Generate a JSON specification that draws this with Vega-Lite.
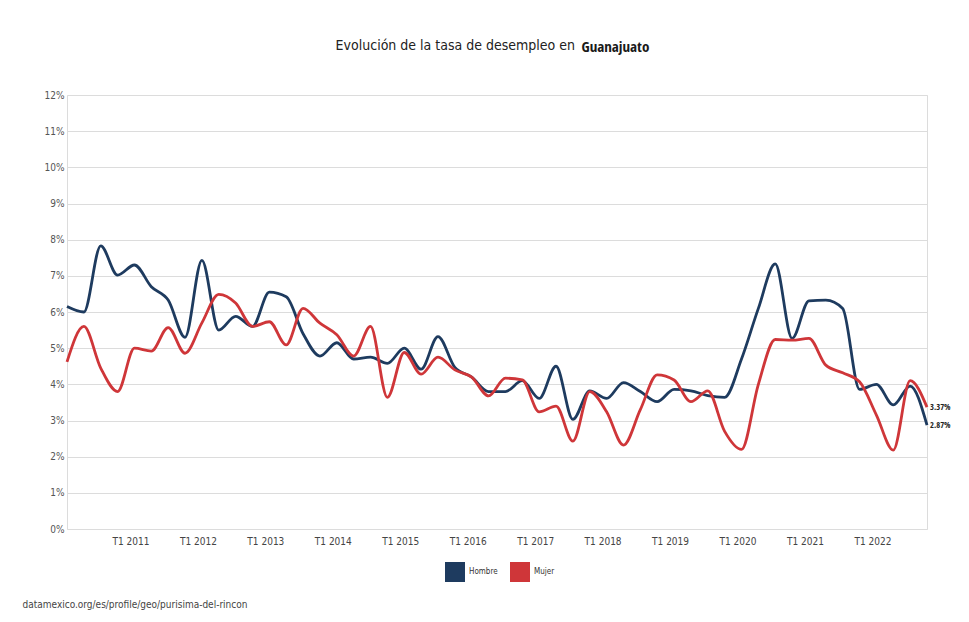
{
  "$schema": "https://vega.github.io/schema/vega-lite/v6.json",
  "width": 860,
  "height": 434,
  "autosize": {"type": "none"},
  "padding": {"left": 67, "top": 95, "right": 42, "bottom": 93},
  "background": "white",
  "config": {
    "font": "DejaVu Sans Condensed",
    "view": {"stroke": "#dcdcdc", "strokeWidth": 1}
  },
  "title": {
    "text": "Evolución de la tasa de desempleo en",
    "anchor": "end",
    "frame": "group",
    "dx": -352,
    "offset": -14,
    "fontSize": 14,
    "fontWeight": "normal",
    "color": "#222"
  },
  "data": {
    "values": [
      {"t": 2010.00, "sexo": "Hombre", "v": 6.15}, {"t": 2010.25, "sexo": "Hombre", "v": 6.0},
      {"t": 2010.50, "sexo": "Hombre", "v": 7.83}, {"t": 2010.75, "sexo": "Hombre", "v": 7.02},
      {"t": 2011.00, "sexo": "Hombre", "v": 7.3}, {"t": 2011.25, "sexo": "Hombre", "v": 6.7},
      {"t": 2011.50, "sexo": "Hombre", "v": 6.33}, {"t": 2011.75, "sexo": "Hombre", "v": 5.3},
      {"t": 2012.00, "sexo": "Hombre", "v": 7.43}, {"t": 2012.25, "sexo": "Hombre", "v": 5.5},
      {"t": 2012.50, "sexo": "Hombre", "v": 5.88}, {"t": 2012.75, "sexo": "Hombre", "v": 5.6},
      {"t": 2013.00, "sexo": "Hombre", "v": 6.55}, {"t": 2013.25, "sexo": "Hombre", "v": 6.42},
      {"t": 2013.50, "sexo": "Hombre", "v": 5.4}, {"t": 2013.75, "sexo": "Hombre", "v": 4.78},
      {"t": 2014.00, "sexo": "Hombre", "v": 5.15}, {"t": 2014.25, "sexo": "Hombre", "v": 4.7},
      {"t": 2014.50, "sexo": "Hombre", "v": 4.75}, {"t": 2014.75, "sexo": "Hombre", "v": 4.58},
      {"t": 2015.00, "sexo": "Hombre", "v": 5.0}, {"t": 2015.25, "sexo": "Hombre", "v": 4.42},
      {"t": 2015.50, "sexo": "Hombre", "v": 5.32}, {"t": 2015.75, "sexo": "Hombre", "v": 4.47},
      {"t": 2016.00, "sexo": "Hombre", "v": 4.2}, {"t": 2016.25, "sexo": "Hombre", "v": 3.8},
      {"t": 2016.50, "sexo": "Hombre", "v": 3.8}, {"t": 2016.75, "sexo": "Hombre", "v": 4.1},
      {"t": 2017.00, "sexo": "Hombre", "v": 3.61}, {"t": 2017.25, "sexo": "Hombre", "v": 4.5},
      {"t": 2017.50, "sexo": "Hombre", "v": 3.03}, {"t": 2017.75, "sexo": "Hombre", "v": 3.82},
      {"t": 2018.00, "sexo": "Hombre", "v": 3.61}, {"t": 2018.25, "sexo": "Hombre", "v": 4.05},
      {"t": 2018.50, "sexo": "Hombre", "v": 3.8}, {"t": 2018.75, "sexo": "Hombre", "v": 3.52},
      {"t": 2019.00, "sexo": "Hombre", "v": 3.86}, {"t": 2019.25, "sexo": "Hombre", "v": 3.82},
      {"t": 2019.50, "sexo": "Hombre", "v": 3.69}, {"t": 2019.75, "sexo": "Hombre", "v": 3.64},
      {"t": 2020.00, "sexo": "Hombre", "v": 4.7}, {"t": 2020.25, "sexo": "Hombre", "v": 6.1},
      {"t": 2020.50, "sexo": "Hombre", "v": 7.33}, {"t": 2020.75, "sexo": "Hombre", "v": 5.27},
      {"t": 2021.00, "sexo": "Hombre", "v": 6.31}, {"t": 2021.25, "sexo": "Hombre", "v": 6.33},
      {"t": 2021.50, "sexo": "Hombre", "v": 6.1}, {"t": 2021.75, "sexo": "Hombre", "v": 3.86},
      {"t": 2022.00, "sexo": "Hombre", "v": 4.0}, {"t": 2022.25, "sexo": "Hombre", "v": 3.43},
      {"t": 2022.50, "sexo": "Hombre", "v": 3.95}, {"t": 2022.75, "sexo": "Hombre", "v": 2.87},
      {"t": 2010.00, "sexo": "Mujer", "v": 4.62}, {"t": 2010.25, "sexo": "Mujer", "v": 5.6},
      {"t": 2010.50, "sexo": "Mujer", "v": 4.45}, {"t": 2010.75, "sexo": "Mujer", "v": 3.8},
      {"t": 2011.00, "sexo": "Mujer", "v": 5.0}, {"t": 2011.25, "sexo": "Mujer", "v": 4.92},
      {"t": 2011.50, "sexo": "Mujer", "v": 5.57}, {"t": 2011.75, "sexo": "Mujer", "v": 4.86},
      {"t": 2012.00, "sexo": "Mujer", "v": 5.7}, {"t": 2012.25, "sexo": "Mujer", "v": 6.49},
      {"t": 2012.50, "sexo": "Mujer", "v": 6.25}, {"t": 2012.75, "sexo": "Mujer", "v": 5.6},
      {"t": 2013.00, "sexo": "Mujer", "v": 5.73}, {"t": 2013.25, "sexo": "Mujer", "v": 5.09},
      {"t": 2013.50, "sexo": "Mujer", "v": 6.1}, {"t": 2013.75, "sexo": "Mujer", "v": 5.69},
      {"t": 2014.00, "sexo": "Mujer", "v": 5.37}, {"t": 2014.25, "sexo": "Mujer", "v": 4.78},
      {"t": 2014.50, "sexo": "Mujer", "v": 5.6}, {"t": 2014.75, "sexo": "Mujer", "v": 3.64},
      {"t": 2015.00, "sexo": "Mujer", "v": 4.88}, {"t": 2015.25, "sexo": "Mujer", "v": 4.28},
      {"t": 2015.50, "sexo": "Mujer", "v": 4.75}, {"t": 2015.75, "sexo": "Mujer", "v": 4.4},
      {"t": 2016.00, "sexo": "Mujer", "v": 4.2}, {"t": 2016.25, "sexo": "Mujer", "v": 3.68},
      {"t": 2016.50, "sexo": "Mujer", "v": 4.17}, {"t": 2016.75, "sexo": "Mujer", "v": 4.12},
      {"t": 2017.00, "sexo": "Mujer", "v": 3.24}, {"t": 2017.25, "sexo": "Mujer", "v": 3.4},
      {"t": 2017.50, "sexo": "Mujer", "v": 2.43}, {"t": 2017.75, "sexo": "Mujer", "v": 3.8},
      {"t": 2018.00, "sexo": "Mujer", "v": 3.24}, {"t": 2018.25, "sexo": "Mujer", "v": 2.32},
      {"t": 2018.50, "sexo": "Mujer", "v": 3.3}, {"t": 2018.75, "sexo": "Mujer", "v": 4.26},
      {"t": 2019.00, "sexo": "Mujer", "v": 4.12}, {"t": 2019.25, "sexo": "Mujer", "v": 3.52},
      {"t": 2019.50, "sexo": "Mujer", "v": 3.82}, {"t": 2019.75, "sexo": "Mujer", "v": 2.7},
      {"t": 2020.00, "sexo": "Mujer", "v": 2.2}, {"t": 2020.25, "sexo": "Mujer", "v": 4.0},
      {"t": 2020.50, "sexo": "Mujer", "v": 5.24}, {"t": 2020.75, "sexo": "Mujer", "v": 5.22},
      {"t": 2021.00, "sexo": "Mujer", "v": 5.27}, {"t": 2021.25, "sexo": "Mujer", "v": 4.53},
      {"t": 2021.50, "sexo": "Mujer", "v": 4.32}, {"t": 2021.75, "sexo": "Mujer", "v": 4.07},
      {"t": 2022.00, "sexo": "Mujer", "v": 3.15}, {"t": 2022.25, "sexo": "Mujer", "v": 2.18},
      {"t": 2022.50, "sexo": "Mujer", "v": 4.1}, {"t": 2022.75, "sexo": "Mujer", "v": 3.37}
    ]
  },
  "encoding": {
    "x": {
      "field": "t",
      "type": "quantitative",
      "scale": {"domain": [2010, 2022.75], "nice": false, "zero": false},
      "axis": {
        "values": [2011, 2012, 2013, 2014, 2015, 2016, 2017, 2018, 2019, 2020, 2021, 2022],
        "labelExpr": "'T1 ' + datum.value",
        "grid": false,
        "ticks": false,
        "domain": false,
        "labelFontSize": 10,
        "labelColor": "#444",
        "labelPadding": 7,
        "labelOffset": -4,
        "title": "datamexico.org/es/profile/geo/purisima-del-rincon",
        "titleX": -45,
        "titleY": 75,
        "titleAlign": "left",
        "titleAnchor": "start",
        "titleBaseline": "middle",
        "titleFontSize": 10,
        "titleFontWeight": "normal",
        "titleColor": "#444"
      }
    },
    "y": {
      "field": "v",
      "type": "quantitative",
      "scale": {"domain": [0, 12], "nice": false},
      "axis": {
        "values": [0, 1, 2, 3, 4, 5, 6, 7, 8, 9, 10, 11, 12],
        "labelExpr": "datum.value + '%'",
        "grid": true,
        "gridColor": "#dcdcdc",
        "gridWidth": 1,
        "ticks": false,
        "domain": false,
        "labelFontSize": 10,
        "labelColor": "#555",
        "labelPadding": 3,
        "title": "Guanajuato",
        "titleFont": "Open Sans Condensed",
        "titleAngle": 0,
        "titleX": 514,
        "titleY": -49,
        "titleAlign": "left",
        "titleBaseline": "middle",
        "titleFontSize": 15,
        "titleFontWeight": "normal",
        "titleColor": "#1a1a1a"
      }
    },
    "color": {
      "field": "sexo",
      "type": "nominal",
      "scale": {"domain": ["Hombre", "Mujer"], "range": ["#1e3b5f", "#cf3639"]},
      "legend": {
        "title": null,
        "orient": "none",
        "direction": "horizontal",
        "legendX": 378,
        "legendY": 467,
        "symbolType": "square",
        "symbolSize": 400,
        "symbolStrokeWidth": 0,
        "labelFontSize": 8,
        "labelColor": "#333",
        "columnPadding": 12,
        "encode": {
          "symbols": {"update": {"fill": {"scale": "color", "field": "value"}, "fillOpacity": {"value": 1}}}
        }
      }
    }
  },
  "layer": [
    {
      "mark": {"type": "line", "interpolate": "monotone", "strokeWidth": 2.8}
    },
    {
      "transform": [
        {"filter": "datum.t == 2022.75"},
        {"calculate": "format(datum.v, '.2f') + '%'", "as": "lbl"}
      ],
      "mark": {"type": "text", "align": "left", "dx": 3, "fontSize": 8.5, "font": "Open Sans Condensed", "fontWeight": "normal"},
      "encoding": {
        "text": {"field": "lbl", "type": "nominal"},
        "color": {"value": "#222"}
      }
    }
  ]
}
